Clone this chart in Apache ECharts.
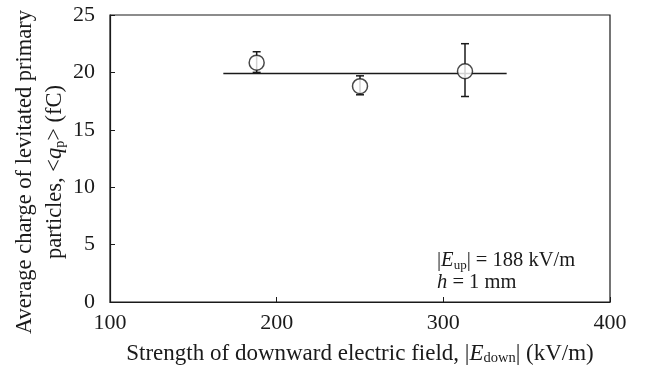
<!DOCTYPE html>
<html>
<head>
<meta charset="utf-8">
<script src="https://cdn.jsdelivr.net/npm/echarts@6/dist/echarts.min.js"></script>
<style>
html,body{margin:0;padding:0;background:#fff;}
#chart{width:646px;height:368px;}
</style>
</head>
<body>
<div id="chart"></div>
<script>
// Downward field strength (kV/m) and average charge of levitated particles (fC)
const fieldDown = [188, 250, 313];
const chargeMean = [20.85, 18.8, 20.1];
const chargeLow = [20.0, 18.05, 17.9];
const chargeHigh = [21.8, 19.7, 22.5];
// Overall average level and the field span it is drawn across
const avgCharge = 19.9;
const avgSpan = [168, 338];
const xTicks = [100, 200, 300, 400];
const yTicks = [0, 5, 10, 15, 20, 25];

const FONT = '"Liberation Serif", "Times New Roman", serif';
const INK = '#1a1a1a';

const points = fieldDown.map((x, i) => [x, chargeMean[i]]);
const errs = fieldDown.map((x, i) => [x, chargeLow[i], chargeHigh[i]]);

const chart = echarts.init(document.getElementById('chart'), null, {renderer: 'canvas'});

chart.setOption({
  animation: false,
  grid: {
    left: 110, right: 36, top: 15, bottom: 66,
    outerBoundsMode: 'none', containLabel: false,
    show: true, borderColor: INK, borderWidth: 1.2, backgroundColor: 'transparent'
  },
  xAxis: {
    type: 'value', min: xTicks[0], max: xTicks[xTicks.length - 1], interval: 100,
    axisLine: {show: true, onZero: false, lineStyle: {color: INK, width: 1.2}},
    axisTick: {show: true, inside: true, length: 5, lineStyle: {color: INK}},
    axisLabel: {color: INK, fontFamily: FONT, fontSize: 22, margin: 10},
    splitLine: {show: false},
    name: '{n|Strength of downward electric field, |}{i|E}{s|down}{n|| (kV/m)}',
    nameLocation: 'middle', nameGap: 40,
    nameTextStyle: {
      rich: {
        n: {fontFamily: FONT, fontSize: 23, color: INK},
        i: {fontFamily: FONT, fontSize: 23, fontStyle: 'italic', color: INK},
        s: {fontFamily: FONT, fontSize: 14.5, color: INK, verticalAlign: 'bottom', padding: [9, 0, 0, 0]}
      }
    }
  },
  yAxis: {
    type: 'value', min: yTicks[0], max: yTicks[yTicks.length - 1], interval: 5,
    axisLine: {show: true, onZero: false, lineStyle: {color: INK, width: 1.2}},
    axisTick: {show: true, inside: true, length: 5, lineStyle: {color: INK}},
    axisLabel: {color: INK, fontFamily: FONT, fontSize: 22, margin: 15},
    splitLine: {show: false}
  },
  series: [
    {
      type: 'line', data: [[avgSpan[0], avgCharge], [avgSpan[1], avgCharge]],
      symbol: 'none', lineStyle: {color: INK, width: 1.5}, z: 1, silent: true
    },
    {
      type: 'custom', data: errs, z: 2, silent: true,
      renderItem: function (params, api) {
        const x = api.value(0);
        const lo = api.coord([x, api.value(1)]);
        const hi = api.coord([x, api.value(2)]);
        const w = 4;
        const style = {stroke: INK, lineWidth: 1.5};
        return {
          type: 'group',
          children: [
            {type: 'line', shape: {x1: lo[0], y1: lo[1], x2: hi[0], y2: hi[1]}, style: style},
            {type: 'line', shape: {x1: lo[0] - w, y1: lo[1], x2: lo[0] + w, y2: lo[1]}, style: style},
            {type: 'line', shape: {x1: hi[0] - w, y1: hi[1], x2: hi[0] + w, y2: hi[1]}, style: style}
          ]
        };
      }
    },
    {
      type: 'scatter', data: points, symbol: 'circle', symbolSize: 15, z: 3,
      itemStyle: {color: '#fff', borderColor: INK, borderWidth: 1.5}
    }
  ],
  graphic: [
    {
      // vertical axis title, two lines
      type: 'text', x: 40, y: 172, rotation: Math.PI / 2,
      style: {
        text: '{n|Average charge of levitated primary}\n{n|particles, <}{i|q}{s|p}{n|> (fC)}',
        align: 'center', verticalAlign: 'middle', lineHeight: 30,
        rich: {
          n: {fontFamily: FONT, fontSize: 22.5, fill: INK, lineHeight: 30, align: 'center'},
          i: {fontFamily: FONT, fontSize: 22.5, fontStyle: 'italic', fill: INK, lineHeight: 30},
          s: {fontFamily: FONT, fontSize: 14, fill: INK, lineHeight: 30, padding: [10, 0, 0, 0]}
        }
      }
    },
    {
      type: 'text', left: 437, top: 250,
      style: {
        text: '{n||}{i|E}{s|up}{n|| = 188 kV/m}\n{i|h}{n| = 1 mm}',
        lineHeight: 22,
        rich: {
          n: {fontFamily: FONT, fontSize: 20.5, fill: INK, lineHeight: 22},
          i: {fontFamily: FONT, fontSize: 20.5, fontStyle: 'italic', fill: INK, lineHeight: 22},
          s: {fontFamily: FONT, fontSize: 13, fill: INK, lineHeight: 22, padding: [9, 0, 0, 0]}
        }
      }
    }
  ]
});
</script>
</body>
</html>
